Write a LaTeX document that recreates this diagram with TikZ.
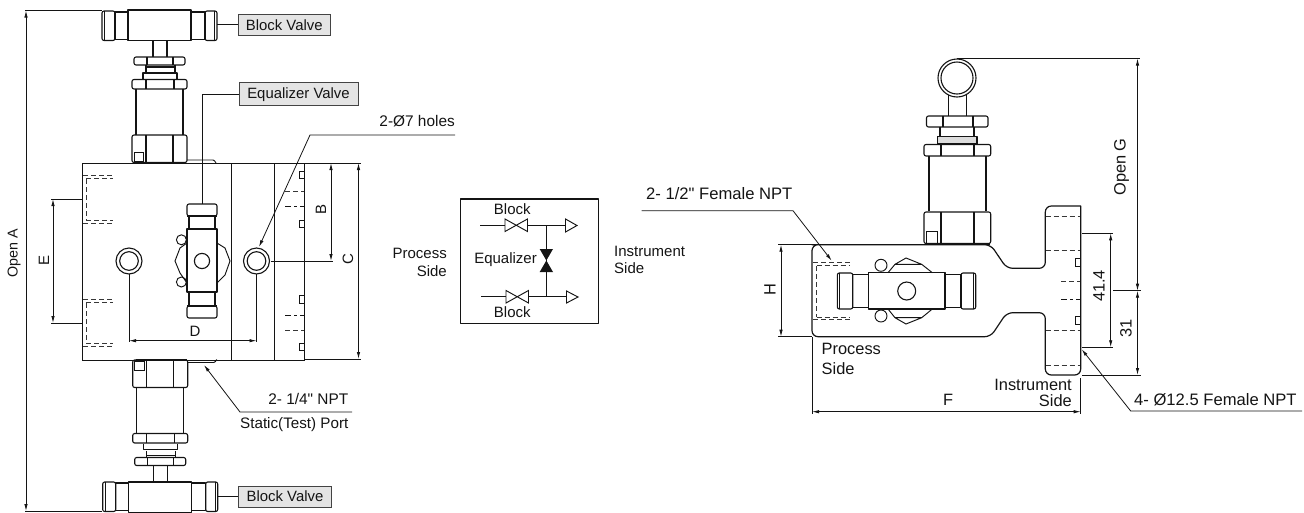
\documentclass[tikz,border=0pt]{standalone}
\usepackage{fontspec}
\setmainfont{Liberation Sans}
\newfontfamily\straightq{Liberation Sans}
\usetikzlibrary{arrows.meta}
\definecolor{ink}{HTML}{141414}
\definecolor{tagfill}{HTML}{E4E4E4}
\tikzset{
  part/.style={draw=ink,line width=1.1pt,line join=round},
  thin part/.style={draw=ink,line width=.95pt},
  hid/.style={draw=ink!85,line width=.9pt,dash pattern=on 5pt off 3pt},
  hidshort/.style={draw=ink,line width=.9pt,dash pattern=on 6pt off 3pt on 3pt off 3pt},
  dim/.style={draw=ink,line width=.8pt,{Latex[length=7pt,width=3.4pt]}-{Latex[length=7pt,width=3.4pt]}},
  ext/.style={draw=ink,line width=.8pt},
  lead/.style={draw=ink,line width=.8pt,-{Latex[length=7pt,width=3.4pt]}},
  lbl/.style={inner sep=0pt,text=ink,font=\fontsize{15}{17}\selectfont},
  rlbl/.style={inner sep=0pt,text=ink,font=\fontsize{16.4}{18}\selectfont},
  tag/.style={draw=ink!80,line width=1pt,fill=tagfill,inner sep=0pt,minimum height=21pt,text=ink,font=\fontsize{14.9}{17}\selectfont},
}
\newcommand{\tvalve}{%
  % handle
  \draw[part,rounded corners=2pt] (102,11) rectangle (115,40.5);
  \draw[part] (115,12) rectangle (128,39.5);
  \draw[part] (128,10) rectangle (191,40.5);
  \draw[part] (191,12) rectangle (205,39.5);
  \draw[part,rounded corners=2pt] (205,11) rectangle (217,40.5);
  \draw[part] (104.5,11) -- (104.5,40.5) (214.5,11) -- (214.5,40.5);
  % stem
  \draw[part] (153,40.5) -- (153,56.5) (167,40.5) -- (167,56.5);
  % upper nut
  \draw[part,rounded corners=2pt] (134,57) rectangle (185,65);
  \draw[part] (147,57) -- (147,65) (173,57) -- (173,65);
  \draw[part] (146,65) -- (146,72) (175,65) -- (175,72);
  \draw[part] (146,67) -- (175,67);
  \draw[part] (143,79) -- (143,73) -- (177,73) -- (177,79);
  % lower nut
  \draw[part,rounded corners=2pt] (132,79.5) rectangle (187,89);
  \draw[part] (146,79.5) -- (146,89) (174,79.5) -- (174,89);
  % barrel
  \draw[part] (136,89) -- (136,135) (183,89) -- (183,135);
  % hex
  \draw[part,rounded corners=2pt] (132,135) -- (187,135) -- (187,162.5) -- (132,162.5) -- cycle;
  \draw[part] (146,135) -- (146,162) (173,135) -- (173,162);
  \draw[thin part] (134,152) rectangle (143.5,161);
  \draw[line width=1.8pt,draw=ink] (135,162.5) -- (186,162.5);
  % lip
  \draw[thin part,rounded corners=1pt] (187,160) -- (214,160) -- (216,163);
}
\begin{document}
\begin{tikzpicture}[x=1pt,y=-1pt]
\useasboundingbox (0,0) rectangle (1304,512);

%% ---------- LEFT VIEW ----------
\tvalve
\begin{scope}[shift={(0.7,522.5)},yscale=-1]
  \tvalve
\end{scope}
% block
\draw[thin part] (82,163) rectangle (304,360);
\draw[thin part] (231,163) -- (231,360) (274.5,163) -- (274.5,360);
% process ports (hidden)
\draw[hid] (83,175) -- (113,175) (86,178) -- (113,178) (86,179) -- (86,220) (83,223) -- (113,223) (86,220) -- (113,220);
\draw[hid] (83,299) -- (113,299) (86,302) -- (113,302) (86,303) -- (86,343) (83,346) -- (113,346) (86,343) -- (113,343);
% instrument side details
\draw[thin part] (304,171.5) -- (299.5,171.5) -- (299.5,178.5) -- (304,178.5);
\draw[thin part] (304,220) -- (299.5,220) -- (299.5,227) -- (304,227);
\draw[thin part] (304,295) -- (299.5,295) -- (299.5,303) -- (304,303);
\draw[thin part] (304,343) -- (299.5,343) -- (299.5,350) -- (304,350);
\draw[hid] (285,191.5) -- (304,191.5);
\draw[hidshort] (285,206) -- (304,206);
\draw[hidshort] (285,315) -- (304,315);
\draw[hid] (285,330) -- (304,330);
% equalizer valve
\draw[part,rounded corners=2pt] (187,204) rectangle (217,216);
\draw[part] (189,216) rectangle (215,229);
\draw[part,fill=white] (187,229) rectangle (217,292);
\draw[part] (189,292) rectangle (215,306);
\draw[part,rounded corners=2pt] (187,306) rectangle (217,318);
\draw[line width=1.7pt,draw=ink] (187,216) -- (217,216) (187,229) -- (217,229) (187,306) -- (217,306);
\draw[part] (202,261) circle (7.6);
\draw[thin part] (181.4,239.8) circle (5);
\draw[thin part] (181.4,282) circle (5);
\draw[thin part] (187,243) -- (180,248) -- (175,261) -- (180,273) -- (187,283);
\draw[thin part] (217,243) -- (225,248) -- (230,261) -- (225,275) -- (217,283);
% mounting holes
\draw[part] (129,261) circle (13);
\draw[part] (129,261) circle (9.3);
\draw[part] (256.5,261) circle (13);
\draw[part] (256.5,261) circle (9.3);

% dimensions, left view
\coordinate (aT) at (26,10.5); \coordinate (aB) at (26,511);
\draw[ext] (25,10.5) -- (102,10.5) (25,511) -- (102,511);
\draw[dim] (aT) -- (aB);
\node[lbl,rotate=90,font=\fontsize{14.3}{17}\selectfont] (openA) at (14,253) {Open A};
\coordinate (eT) at (53,199); \coordinate (eB) at (53,323);
\draw[ext] (51,199) -- (82,199) (51,323) -- (83,323);
\draw[dim] (eT) -- (eB);
\node[lbl,rotate=90] (lE) at (44,260) {E};
\draw[ext] (305,163) -- (361,163) (305,359) -- (361,359);
\draw[ext] (271,261) -- (333,261);
\coordinate (bT) at (331,163); \coordinate (bB) at (331,261);
\draw[dim] (bT) -- (bB);
\node[lbl,rotate=90] (lB) at (321,209) {B};
\coordinate (cT) at (358.5,163); \coordinate (cB) at (358.5,359);
\draw[dim] (cT) -- (cB);
\node[lbl,rotate=90] (lC) at (348,259) {C};
\coordinate (dL) at (129,340.7); \coordinate (dR) at (256.5,340.7);
\draw[ext] (129,274) -- (129,342) (256.5,274) -- (256.5,342);
\draw[dim] (dL) -- (dR);
\node[lbl] (lD) at (195,331) {D};

% tags
\node[tag,minimum width=92.5pt] (tagA) at (284.3,24.8) {Block Valve};
\node[tag,minimum width=119pt,minimum height=22.5pt] (tagB) at (298.5,94.2) {Equalizer Valve};
\node[tag,minimum width=92.5pt] (tagC) at (285,496.6) {Block Valve};
\coordinate (vA) at (217,24.8); \coordinate (vC) at (218,496.6); \coordinate (vB) at (202,204);
\draw[ext,line width=.9pt] (vA) -- (tagA.west);
\draw[ext,line width=.9pt] (vC) -- (tagC.west);
\draw[ext,line width=.9pt] (tagB.west) -| (vB);

% leaders, left view
\coordinate (h1) at (455,135); \coordinate (h2) at (310,135); \coordinate (h3) at (259,247);
\draw[lead] (h1) -- (h2) -- (h3);
\node[lbl,anchor=east,font=\fontsize{15.4}{17}\selectfont] (holes) at (455,121) {2-Ø7 holes};
\coordinate (s1) at (352,412); \coordinate (s2) at (240,412); \coordinate (s3) at (204,365);
\draw[lead] (s1) -- (s2) -- (s3);
\node[lbl,anchor=east,font=\fontsize{15.4}{17}\selectfont] (npt14) at (348.5,399) {\straightq 2- 1/4" NPT};
\node[lbl,anchor=east,font=\fontsize{15.2}{17}\selectfont] (stat) at (348.5,425) {Static(Test) Port};

%% ---------- SCHEMATIC ----------
\draw[part] (460.3,199) rectangle (598.7,323.3);
\coordinate (u0) at (480,225); \coordinate (u1) at (505,225); \coordinate (u2) at (527.5,225); \coordinate (u3) at (565.5,225);
\coordinate (l0) at (481,296.7); \coordinate (l1) at (506,296.7); \coordinate (l2) at (528.5,296.7); \coordinate (l3) at (566.5,296.7);
\draw[thin part] (u0) -- (u1) (u2) -- (u3) (l0) -- (l1) (l2) -- (l3);
\draw[thin part] (505,219) -- (527.5,231.5) -- (527.5,219) -- (505,231.5) -- cycle;
\draw[thin part] (506,290.5) -- (528.5,303) -- (528.5,290.5) -- (506,303) -- cycle;
\draw[thin part] (565.5,219) -- (577,225.5) -- (565.5,232) -- cycle;
\draw[thin part] (566.5,291) -- (578,297) -- (566.5,303) -- cycle;
\draw[thin part] (546.3,225) -- (546.3,296.7);
\fill[ink] (539.7,249) -- (553,249) -- (539.7,272) -- (553,272) -- cycle;
\node[lbl] (blk1) at (512.3,209) {Block};
\node[lbl] (blk2) at (512.3,312) {Block};
\node[lbl,anchor=east] (eqz) at (537,259.5) {Equalizer};
\node[lbl,anchor=east,align=right] (proc1) at (447,262.5) {Process\\[1.5pt]Side};
\node[lbl,anchor=west,align=left] (inst1) at (614,260) {Instrument\\Side};

%% ---------- RIGHT VIEW ----------
% T-handle seen end on
\draw[part] (957,78) circle (19);
\draw[part] (957,78) circle (16);
\draw[part] (948.3,95) -- (948.3,116) (966.7,95) -- (966.7,116);
\draw[part,rounded corners=2pt] (926.5,116) rectangle (988,127);
\draw[part] (943,116) -- (943,127) (973,116) -- (973,127);
\draw[part] (940,127) -- (940,136) (974,127) -- (974,136);
\draw[part,fill=ink!15] (937.5,144) -- (937.5,136.5) -- (977,136.5) -- (977,144) -- cycle;
\draw[part,rounded corners=2pt] (924,144.5) rectangle (990.7,156);
\draw[part] (941,144.5) -- (941,156) (974,144.5) -- (974,156);
\draw[part] (929,156) -- (929,211) (986,156) -- (986,211);
\draw[part,rounded corners=2pt] (924,212) -- (990.7,212) -- (990.7,243.5) -- (924,243.5) -- cycle;
\draw[part] (941,212) -- (941,243) (974,212) -- (974,243);
\draw[thin part] (926.5,231.5) rectangle (937,243);
\draw[line width=1.8pt,draw=ink] (928,244) -- (990,244);
% body outline
\draw[part,line width=1.2pt,rounded corners=6pt]
  (818,244.7) -- (812,244.7) -- (812,336.7) -- (990.7,336.7) -- (1006.7,312.7) -- (1045.3,312.7)
  -- (1045.3,375) -- (1080.7,375) [sharp corners] -- (1080.7,206) [rounded corners=6pt] -- (1045.3,206)
  -- (1045.3,268.3) -- (1006.7,268.3) -- (990.7,244.7) -- cycle;
% hidden lines
\draw[hid] (1045.5,216) -- (1080,216) (1045.5,250.7) -- (1080,250.7) (1045.5,330) -- (1080,330) (1045.5,365) -- (1080,365);
\draw[hid] (1061,281.7) -- (1080,281.7);
\draw[hidshort] (1061,299.3) -- (1080,299.3);
\draw[thin part] (1080,258) -- (1075,258) (1075,266) -- (1080,266) (1075,258) -- (1075,266);
\draw[thin part] (1080,316) -- (1075,316) (1075,324) -- (1080,324) (1075,316) -- (1075,324);
\draw[hid] (813,262.3) -- (850,262.3) (816.7,265) -- (850,265) (816.7,266) -- (816.7,317) (813,319.6) -- (850,319.6) (816.7,317) -- (850,317);
% equalizer handle
\draw[part,rounded corners=2pt] (837.3,273) rectangle (852.7,309);
\draw[part] (852.7,274.5) rectangle (868.7,307.5);
\draw[part] (868.7,272.7) rectangle (945,309);
\draw[part] (945,274.5) rectangle (961,307.5);
\draw[part,rounded corners=2pt] (961,273) rectangle (975.7,309);
\draw[part] (839.5,273) -- (839.5,309) (973.5,273) -- (973.5,309);
\draw[part] (906.7,291) circle (9);
\draw[thin part] (881,265.3) circle (6);
\draw[thin part] (881,316) circle (6);
\draw[thin part] (888,272.7) -- (895,264.3) -- (906,258) -- (921.7,264.3) -- (932.3,272.7) (895,264.3) -- (921.7,264.3);
\draw[thin part] (888,309) -- (895,317.7) -- (906,324) -- (921.7,317.7) -- (932.3,309) (895,317.7) -- (921.7,317.7);

% dimensions, right view
\draw[ext] (778,244.7) -- (812,244.7) (778,336.7) -- (812,336.7);
\coordinate (hT) at (781,244.7); \coordinate (hB) at (781,336.7);
\draw[dim] (hT) -- (hB);
\node[rlbl,rotate=90] (lH) at (770,289.5) {H};
\draw[ext] (812,337) -- (812,413.5) (1080.7,378) -- (1080.7,413.5);
\coordinate (fL) at (812,411.7); \coordinate (fR) at (1080.7,411.7);
\draw[dim] (fL) -- (fR);
\node[rlbl] (lF) at (948,400) {F};
\node[rlbl,anchor=west,align=left] (proc2) at (821.5,359) {Process\\[1.5pt]Side};
\node[rlbl,anchor=east,align=right,font=\fontsize{16.4}{16.5}\selectfont] (inst2) at (1072,393) {Instrument\\Side};
\draw[ext] (1082,233.3) -- (1113,233.3) (1082,347.3) -- (1113,347.3);
\coordinate (m1) at (1110.7,233.3); \coordinate (m2) at (1110.7,347.3);
\draw[dim] (m1) -- (m2);
\node[rlbl,rotate=90] (l414) at (1099,286) {41.4};
\draw[ext] (1113,290.7) -- (1141,290.7) (1082,375) -- (1141,375);
\coordinate (n1) at (1137.5,290.7); \coordinate (n2) at (1137.5,375);
\draw[dim] (n1) -- (n2);
\node[rlbl,rotate=90] (l31) at (1126,328.7) {31};
\coordinate (gT) at (1137.5,58.5);
\draw[ext] (957,58.5) -- (1140,58.5);
\draw[dim] (gT) -- (n1);
\node[rlbl,rotate=90] (lG) at (1121.7,167) {Open G};

% leaders, right view
\coordinate (f1) at (641.7,210.7); \coordinate (f2) at (793,210.7); \coordinate (f3) at (831.7,260.7);
\draw[lead] (f1) -- (f2) -- (f3);
\node[rlbl,anchor=west,font=\fontsize{16.6}{18}\selectfont] (npt12) at (646,194) {\straightq 2- 1/2" Female NPT};
\coordinate (p1) at (1302,411); \coordinate (p2) at (1130.7,411); \coordinate (p3) at (1081.7,349.3);
\draw[lead] (p1) -- (p2) -- (p3);
\node[rlbl,anchor=west,font=\fontsize{16.6}{18}\selectfont] (npt125) at (1134,400) {4- Ø12.5 Female NPT};
\end{tikzpicture}
\end{document}
